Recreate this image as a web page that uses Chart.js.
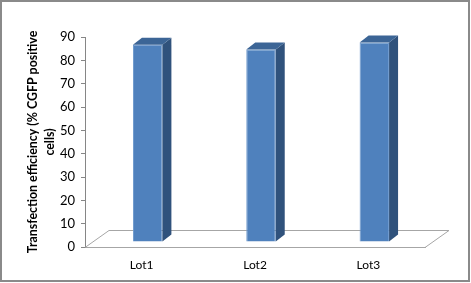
<!DOCTYPE html>
<html>
<head>
<meta charset="utf-8">
<script src="https://cdn.jsdelivr.net/npm/chart.js@4"></script>
<style>
  body { margin: 0; background: #fff; }
  #wrap { width: 471px; height: 283px; }
</style>
</head>
<body>
<div id="wrap"><canvas id="chart" width="471" height="283"></canvas></div>
<script>
// categories and values
const lots = ["Lot1", "Lot2", "Lot3"];
const efficiency = [84.5, 82.5, 85.5];
const yTicks = [0, 10, 20, 30, 40, 50, 60, 70, 80, 90];

// fake 3d look: offsets for bars and the floor
const barShift = { x: 6, y: -5 };
const barDepth = { x: 9, y: -7 };
const floorDepth = { x: 24, y: -17 };

const threeD = {
  id: "threeD",
  beforeDatasetsDraw(chart) {
    const { ctx, chartArea: a } = chart;
    // floor
    ctx.save();
    ctx.strokeStyle = "#a6a6a6";
    ctx.lineWidth = 1;
    ctx.beginPath();
    ctx.moveTo(a.left, a.bottom + 0.5);
    ctx.lineTo(a.left + floorDepth.x, a.bottom + floorDepth.y + 0.5);
    ctx.lineTo(a.right + floorDepth.x, a.bottom + floorDepth.y + 0.5);
    ctx.lineTo(a.right, a.bottom + 0.5);
    ctx.stroke();
    ctx.restore();
    ctx.save();
    ctx.translate(barShift.x, barShift.y);
  },
  afterDatasetsDraw(chart) {
    const { ctx } = chart;
    chart.getDatasetMeta(0).data.forEach(bar => {
      const r = bar.x + bar.width / 2;
      const l = bar.x - bar.width / 2;
      // side
      ctx.fillStyle = "#30527c";
      ctx.beginPath();
      ctx.moveTo(r, bar.y);
      ctx.lineTo(r + barDepth.x, bar.y + barDepth.y);
      ctx.lineTo(r + barDepth.x, bar.base + barDepth.y);
      ctx.lineTo(r, bar.base);
      ctx.closePath();
      ctx.fill();
      // top
      ctx.fillStyle = "#3c6596";
      ctx.beginPath();
      ctx.moveTo(l, bar.y);
      ctx.lineTo(l + barDepth.x, bar.y + barDepth.y);
      ctx.lineTo(r + barDepth.x, bar.y + barDepth.y);
      ctx.lineTo(r, bar.y);
      ctx.closePath();
      ctx.fill();
    });
    ctx.restore();
  },
  afterDraw(chart) {
    const ctx = chart.ctx;
    ctx.save();
    ctx.strokeStyle = "#8a8a8a";
    ctx.lineWidth = 2;
    ctx.strokeRect(1, 1, chart.width - 3, chart.height - 3);
    ctx.restore();
  }
};

new Chart(document.getElementById("chart"), {
  type: "bar",
  plugins: [threeD],
  data: {
    labels: lots,
    datasets: [{
      data: efficiency,
      backgroundColor: "#4f81bd",
      borderColor: "#6b97cc",
      borderWidth: 1,
      categoryPercentage: 1,
      barPercentage: 0.26
    }]
  },
  options: {
    responsive: false,
    animation: false,
    layout: { padding: { left: 24, top: 37, right: 46, bottom: 0 } },
    plugins: { legend: { display: false }, tooltip: { enabled: false } },
    scales: {
      x: {
        grid: { display: false, drawTicks: false },
        border: { display: true, color: "#a6a6a6" },
        ticks: { color: "#000", font: { family: "Lato", size: 12 }, padding: 11 },
        afterFit: s => { s.height = 36; }
      },
      y: {
        min: 0,
        max: 90,
        afterBuildTicks: s => { s.ticks = yTicks.map(v => ({ value: v })); },
        grid: { drawOnChartArea: false, tickLength: 4, color: "#868686" },
        border: { display: true, color: "#868686" },
        ticks: { color: "#000", font: { family: "Lato", size: 13 }, padding: 6 },
        title: {
          display: true,
          text: ["Transfection efficiency (% CGFP positive", "cells)"],
          color: "#000",
          font: { family: "Lato", size: 12.4, weight: "bold", lineHeight: 1.4 },
          padding: { top: 0, bottom: 0 }
        },
        afterFit: s => { s.width = 61; }
      }
    }
  }
});
</script>
</body>
</html>
